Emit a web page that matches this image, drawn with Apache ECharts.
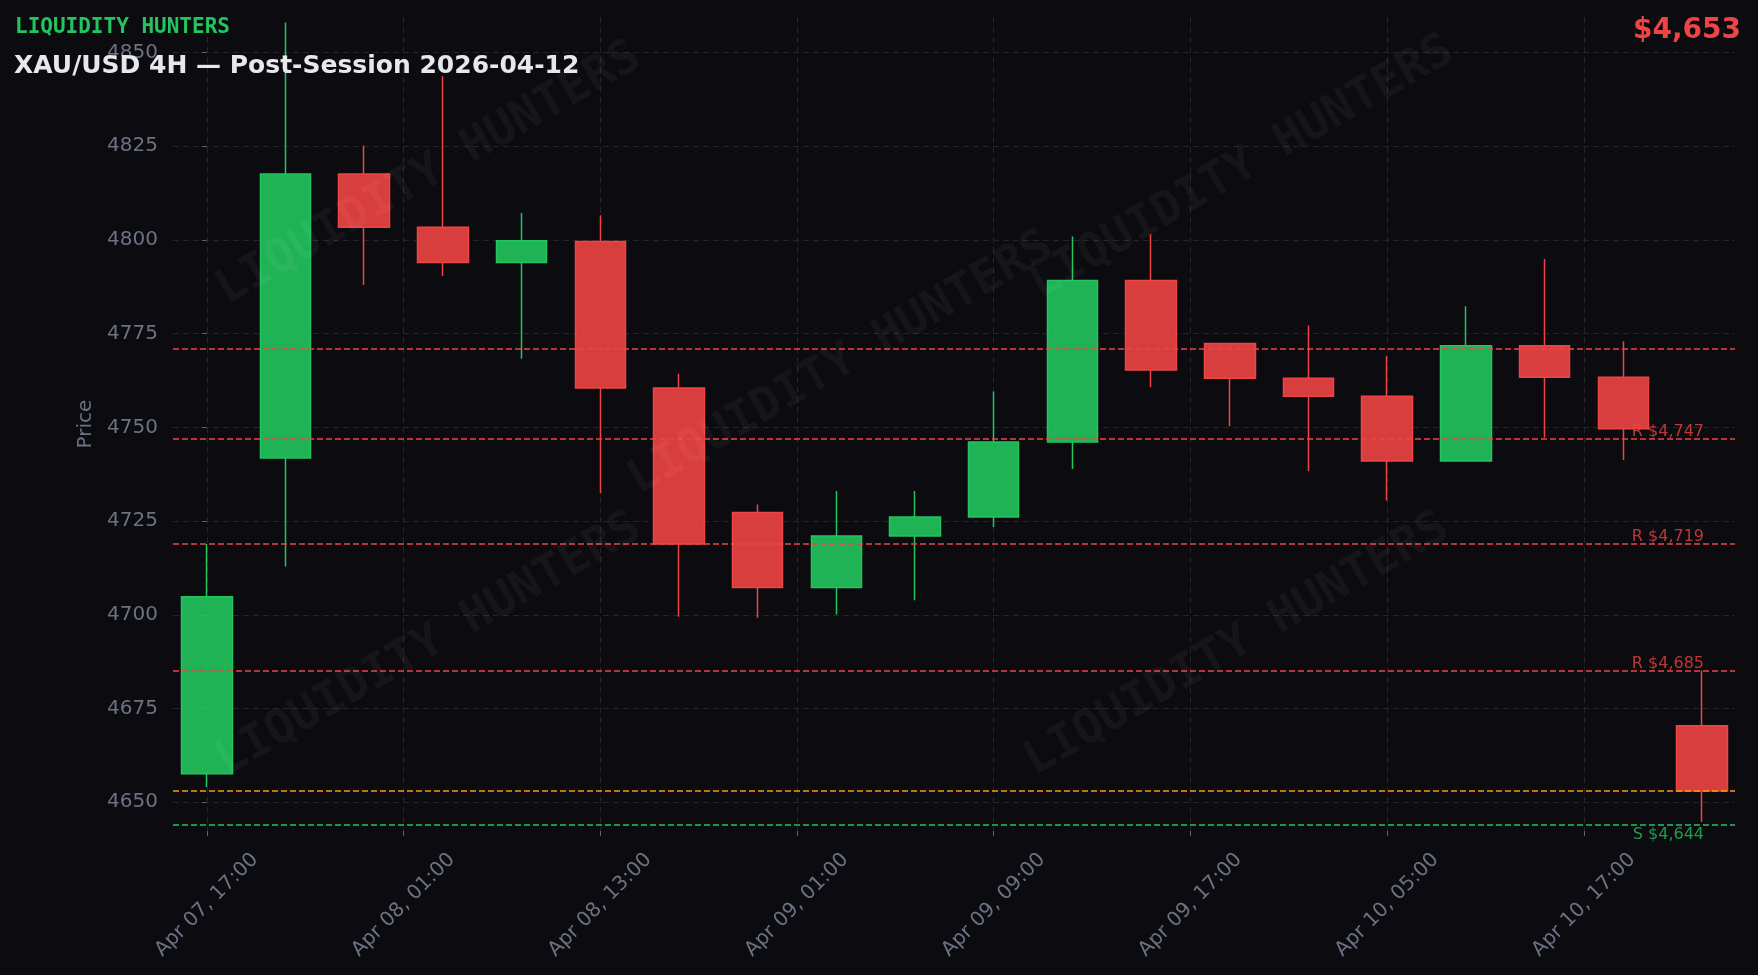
<!DOCTYPE html>
<html>
<head>
<meta charset="utf-8">
<script src="https://cdn.jsdelivr.net/npm/echarts@6/dist/echarts.min.js"></script>
<style>
html,body{margin:0;padding:0;background:#0b0b10;}
#chart{width:1758px;height:975px;}
</style>
</head>
<body>
<div id="chart"></div>
<script>
// ---- data ----
const candleIndex = [0,1,2,3,4,5,6,7,8,9,10,11,12,13,14,15,16,17,18,19];
const openV  = [4657.6,4741.8,4817.6,4803.4,4794.0,4799.6,4760.5,4727.3,4707.3,4721.0,4726.1,4746.1,4789.2,4772.4,4763.1,4758.3,4741.0,4771.8,4763.4,4670.4];
const closeV = [4704.8,4817.6,4803.4,4794.0,4799.8,4760.5,4718.9,4707.3,4721.0,4726.1,4746.1,4789.2,4765.3,4763.1,4758.3,4741.0,4771.8,4763.4,4749.6,4653.0];
const lowV   = [4654.0,4712.9,4788.0,4790.4,4768.3,4732.4,4699.5,4699.2,4700.1,4703.9,4723.4,4738.9,4760.8,4750.3,4738.3,4730.5,4741.0,4747.3,4741.3,4644.7];
const highV  = [4718.9,4858.0,4825.2,4843.7,4807.2,4806.6,4764.3,4729.4,4733.0,4733.0,4759.6,4800.9,4801.5,4772.6,4777.2,4769.1,4782.3,4794.9,4773.0,4685.1];

const xTickPos    = [0, 2.5, 5, 7.5, 10, 12.5, 15, 17.5];
const xTickLabels = ['Apr 07, 17:00','Apr 08, 01:00','Apr 08, 13:00','Apr 09, 01:00','Apr 09, 09:00','Apr 09, 17:00','Apr 10, 05:00','Apr 10, 17:00'];
const yTicks      = [4650, 4675, 4700, 4725, 4750, 4775, 4800, 4825, 4850];

const resistanceLevels = [4747, 4719, 4685];
const supportLevels    = [4644];
const extraLevels      = [4771];
const currentPrice     = 4653;

const brandText = 'LIQUIDITY HUNTERS';
const titleText = 'XAU/USD 4H \u2014 Post-Session 2026-04-12';
const watermarkSpots = [[429,174],[841,364],[1242,168],[429,645],[1237,645]];

// ---- build ----
const fmt = v => '$' + v.toLocaleString('en-US');
const ohlc = candleIndex.map((x, i) => [x, openV[i], closeV[i], lowV[i], highV[i]]);

const GREEN = '#22c55e', RED = '#ef4444', ORANGE = '#f59e0b';
const AXIS_TXT = '#6b7280';
const GRID_LINE = '#24242e';

const markData = [];
extraLevels.forEach(v => markData.push({yAxis: v, lineStyle: {color: RED}, label: {show: false}}));
resistanceLevels.forEach(v => markData.push({
  yAxis: v, lineStyle: {color: RED},
  label: {show: true, formatter: 'R ' + fmt(v), position: 'insideEndTop', distance: [31, -1], color: 'rgba(239,68,68,0.78)'}
}));
supportLevels.forEach(v => markData.push({
  yAxis: v, lineStyle: {color: GREEN},
  label: {show: true, formatter: 'S ' + fmt(v), position: 'insideEndBottom', distance: [31, 2.5], color: 'rgba(34,197,94,0.78)'}
}));
markData.push({yAxis: currentPrice, lineStyle: {color: ORANGE}, label: {show: false}});

const graphics = [];
watermarkSpots.forEach(p => graphics.push({
  type: 'text', x: p[0], y: p[1], rotation: 30 * Math.PI / 180, z: 100, silent: true,
  style: {
    text: brandText, fill: 'rgba(255,255,255,0.045)',
    font: 'bold 47px "DejaVu Sans Mono"',
    align: 'center', verticalAlign: 'middle', textAlign: 'center', textVerticalAlign: 'middle'
  }
}));
graphics.push({
  type: 'text', left: 15, top: 17, z: 200,
  style: {text: brandText, fill: GREEN, font: 'bold 21px "DejaVu Sans Mono"'}
});
graphics.push({
  type: 'text', left: 14, top: 54, z: 200,
  style: {text: titleText, fill: '#e8e8ec', font: 'bold 25px "DejaVu Sans"'}
});
graphics.push({
  type: 'text', right: 17, top: 17, z: 200,
  style: {text: fmt(closeV[closeV.length - 1]), fill: RED, font: 'bold 28px "DejaVu Sans"'}
});

const chart = echarts.init(document.getElementById('chart'), null, {renderer: 'canvas'});
chart.setOption({
  backgroundColor: '#0b0b10',
  animation: false,
  textStyle: {fontFamily: 'DejaVu Sans'},
  grid: {left: 173, right: 23, top: 17, bottom: 144, containLabel: false},
  xAxis: {
    type: 'value', min: -0.43, max: 19.42,
    axisLine: {show: false},
    axisTick: {show: true, length: 5, customValues: xTickPos, lineStyle: {color: '#5b616e', width: 1}},
    axisLabel: {
      show: true, customValues: xTickPos, rotate: 45, align: 'center', verticalAlign: 'middle',
      margin: 74, color: AXIS_TXT, fontSize: 20, fontFamily: 'DejaVu Sans',
      formatter: v => { const i = xTickPos.indexOf(v); return i >= 0 ? xTickLabels[i] : ''; }
    },
    splitLine: {show: true, lineStyle: {color: GRID_LINE, type: [6, 4], width: 1}}
  },
  yAxis: {
    type: 'value', min: 4642.3, max: 4859.5, scale: true,
    name: 'Price', nameLocation: 'middle', nameGap: 66,
    nameTextStyle: {color: AXIS_TXT, fontSize: 20, fontFamily: 'DejaVu Sans'},
    axisLine: {show: false},
    axisTick: {show: true, length: 5, customValues: yTicks, lineStyle: {color: '#5b616e', width: 1}},
    axisLabel: {
      show: true, customValues: yTicks, margin: 15, color: AXIS_TXT, fontSize: 20, fontFamily: 'DejaVu Sans',
      padding: [6, 0, 0, 0], formatter: v => String(v)
    },
    splitLine: {show: true, lineStyle: {color: GRID_LINE, type: [6, 4], width: 1}}
  },
  series: [{
    type: 'candlestick',
    data: ohlc,
    barWidth: 51,
    itemStyle: {
      color: 'rgba(34,197,94,0.9)', color0: 'rgba(239,68,68,0.9)',
      borderColor: GREEN, borderColor0: RED, borderWidth: 1.5
    },
    markLine: {
      silent: true, symbol: 'none', animation: false,
      lineStyle: {type: [6, 3], width: 1.5},
      label: {fontSize: 16, fontFamily: 'DejaVu Sans'},
      data: markData
    }
  }],
  graphic: graphics
});
</script>
</body>
</html>
